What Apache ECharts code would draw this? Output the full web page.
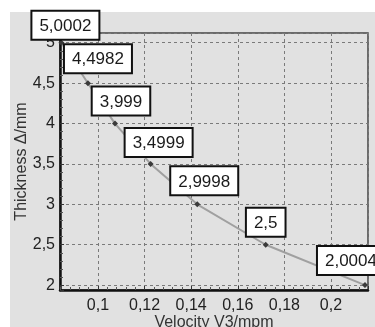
<!DOCTYPE html>
<html>
<head>
<meta charset="utf-8">
<script src="https://cdn.jsdelivr.net/npm/echarts@6/dist/echarts.min.js"></script>
<style>
  html, body { margin: 0; padding: 0; background: #fff; }
  #wrap { position: relative; width: 375px; height: 327px; overflow: hidden; }
  #bg { position: absolute; left: 10px; top: 12px; right: 0; bottom: 0; background: #e1e1e1; }
  #chart { position: absolute; left: 0; top: 0; width: 375px; height: 327px; }
</style>
</head>
<body>
<div id="wrap"><div id="bg"></div><div id="chart"></div></div>
<script>
// Data
const velocity = [0.0843, 0.0957, 0.1073, 0.1226, 0.1426, 0.172, 0.2146];
const thickness = [5.0002, 4.4982, 3.999, 3.4999, 2.9998, 2.5, 2.0004];
const xAxisTitle = 'Velocity V3/mpm';
const yAxisTitle = 'Thickness \u0394/mm';

// label nudges (style only)
const labelDx = [4, 10, 6, 8, 7, 0, -14];
const labelDy = [0, -7, -5, -4, -6, -5, -7];

const comma = v => String(v).replace('.', ',');

const seriesData = velocity.map((v, i) => ({
  value: [v, thickness[i]],
  label: { offset: [labelDx[i], labelDy[i]] }
}));

const chart = echarts.init(document.getElementById('chart'), null, { renderer: 'canvas' });
const tickFont = { color: '#222', fontSize: 16, fontFamily: 'Liberation Sans, Arial, sans-serif' };
chart.setOption({
  animation: false,
  backgroundColor: 'transparent',
  grid: { left: 60, top: 33, right: 7, bottom: 37, outerBoundsMode: 'none', containLabel: false, show: true, backgroundColor: '#e1e1e1', borderColor: '#444', borderWidth: 1.5 },
  xAxis: {
    type: 'value', min: 0.0837, max: 0.2159, splitNumber: 7,
    name: xAxisTitle, nameLocation: 'middle', nameGap: 25, nameMoveOverlap: false,
    nameTextStyle: { color: '#333', fontSize: 16, fontFamily: 'Liberation Sans, Arial, sans-serif' },
    axisLine: { show: true, onZero: false, lineStyle: { color: '#111', width: 2.5 } },
    axisTick: { show: true, inside: true, length: 4, lineStyle: { color: '#333' } },
    minorTick: { show: true, splitNumber: 5, length: 3, lineStyle: { color: '#555' } },
    axisLabel: { ...tickFont, margin: 8, showMinLabel: false, showMaxLabel: false, formatter: comma },
    splitLine: { show: true, lineStyle: { color: '#7a7a7a', type: [3, 3], width: 1 } }
  },
  yAxis: {
    type: 'value', min: 1.94, max: 5.12, splitNumber: 6,
    name: yAxisTitle, nameLocation: 'middle', nameGap: 30, nameRotate: 90, nameMoveOverlap: false,
    nameTextStyle: { color: '#333', fontSize: 16, fontFamily: 'Liberation Sans, Arial, sans-serif' },
    axisLine: { show: true, onZero: false, lineStyle: { color: '#111', width: 2.5 } },
    axisTick: { show: true, inside: true, length: 4, lineStyle: { color: '#333' } },
    minorTick: { show: true, splitNumber: 5, length: 3, lineStyle: { color: '#555' } },
    axisLabel: { ...tickFont, margin: 5, showMinLabel: false, showMaxLabel: false, formatter: comma },
    splitLine: { show: true, lineStyle: { color: '#7a7a7a', type: [3, 3], width: 1 } }
  },
  series: [{
    type: 'line',
    data: seriesData,
    clip: false,
    symbol: 'diamond', symbolSize: 6,
    itemStyle: { color: '#3a3a3a' },
    lineStyle: { color: '#a0a0a0', width: 2 },
    label: {
      show: true, position: 'top', distance: 1,
      formatter: p => comma(p.value[1]),
      color: '#1a1a1a', fontSize: 17, fontFamily: 'Liberation Sans, Arial, sans-serif',
      backgroundColor: '#fff', borderColor: '#111', borderWidth: 2,
      padding: [6, 7, 4, 7]
    }
  }]
});
</script>
</body>
</html>
